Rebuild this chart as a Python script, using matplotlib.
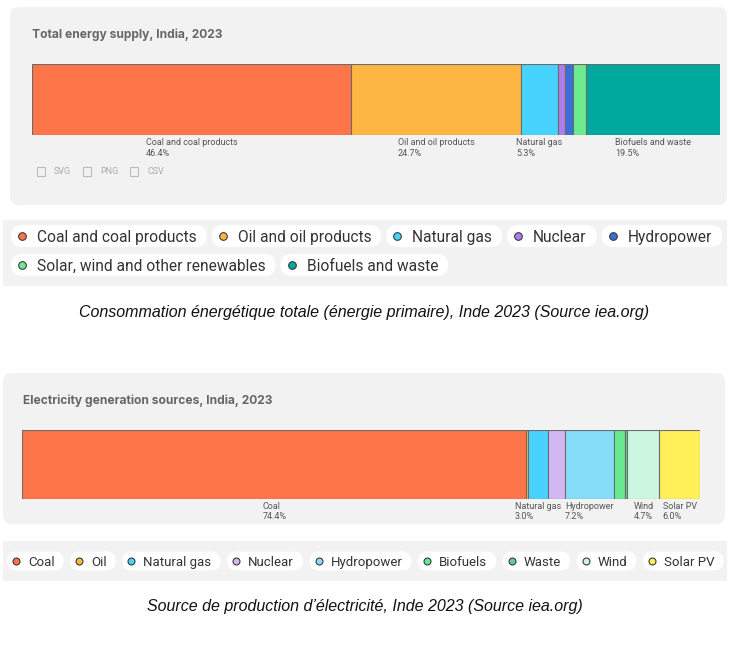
import matplotlib.pyplot as plt
from matplotlib.patches import FancyBboxPatch, Rectangle

W, H = 745, 668

# Total energy supply, India 2023 (iea.org) - parts en %
tes_sources = ["Coal and coal products", "Oil and oil products", "Natural gas", "Nuclear",
               "Hydropower", "Solar, wind and other renewables", "Biofuels and waste"]
tes_share = [46.4, 24.7, 5.3, 1.1, 1.2, 1.8, 19.5]
tes_colors = ["#FF754A", "#FDB643", "#48D3FF", "#AE7EEC", "#3A6FD6", "#6CEC8E", "#00A99D"]
tes_labelled = ["Coal and coal products", "Oil and oil products", "Natural gas", "Biofuels and waste"]

# Electricity generation sources, India 2023 - parts en %
elec_sources = ["Coal", "Oil", "Natural gas", "Nuclear", "Hydropower", "Biofuels", "Waste", "Wind", "Solar PV"]
elec_share = [74.4, 0.2, 3.0, 2.5, 7.2, 1.7, 0.3, 4.7, 6.0]
elec_colors = ["#FF754A", "#FDB643", "#48D3FF", "#D2B8F3", "#86DDF8", "#65EA8F", "#5FCFA0", "#CDF6E0", "#FFF05A"]
elec_labelled = ["Coal", "Natural gas", "Hydropower", "Wind", "Solar PV"]

fig = plt.figure(figsize=(W / 100, H / 100), dpi=100)
bg = fig.add_axes([0, 0, 1, 1])
bg.set_xlim(0, W)
bg.set_ylim(H, 0)
bg.axis("off")
renderer = fig.canvas.get_renderer()

FONT = ["Roboto", "DejaVu Sans"]


def fond(x0, y0, x1, y1, r=0):
    if r:
        bg.add_patch(FancyBboxPatch((x0 + r, y0 + r), x1 - x0 - 2 * r, y1 - y0 - 2 * r,
                                    boxstyle=f"round,pad={r},rounding_size={r}",
                                    fc="#F2F2F2", ec="none", zorder=0))
    else:
        bg.add_patch(Rectangle((x0, y0), x1 - x0, y1 - y0, fc="#F2F2F2", ec="none", zorder=0))


def axes_px(x0, y0, x1, y1):
    ax = fig.add_axes([x0 / W, 1 - y1 / H, (x1 - x0) / W, (y1 - y0) / H])
    ax.patch.set_alpha(0)
    return ax


def barre_empilee(ax, parts, couleurs, noms, etiquettes, fs, decal):
    gauche = 0
    for p, c, n in zip(parts, couleurs, noms):
        ax.barh(0, p, left=gauche, height=1, color=c, edgecolor="#6b6b6b", linewidth=0.8)
        if n in etiquettes:
            ax.annotate(f"{n}\n{p:.1f}%", xy=(gauche + p / 2, -0.5), xytext=(0, -decal),
                        textcoords="offset points", ha="center", va="top",
                        multialignment="left", fontsize=fs, color="#555555",
                        family=FONT, linespacing=1.15, annotation_clip=False)
        gauche += p
    ax.set_xlim(0, sum(parts))
    ax.set_ylim(-0.5, 0.5)
    ax.axis("off")


def legende(x0, lignes, noms, couleurs, fs, h, pad_m, pad_t, pad_r, ecart, ms):
    i = 0
    for yc, n in lignes:
        x = x0
        for nom, col in zip(noms[i:i + n], couleurs[i:i + n]):
            t = bg.text(x + pad_t, yc, nom, fontsize=fs, va="center_baseline", ha="left",
                        color="#333333", family=FONT, zorder=3)
            w = t.get_window_extent(renderer).width
            larg = pad_t + w + pad_r
            bg.add_patch(FancyBboxPatch((x, yc - h / 2), larg, h,
                                        boxstyle=f"round,pad=0,rounding_size={h / 2}",
                                        fc="white", ec="none", zorder=1))
            bg.plot([x + pad_m], [yc], marker="o", ms=ms, mfc=col, mec="#3a3a3a",
                    mew=0.8, zorder=2)
            x += larg + ecart
        i += n


# ---- panneau 1 : énergie primaire ----
fond(10, 7, 727, 205, r=9)
bg.text(32, 35, "Total energy supply, India, 2023", fontsize=8.65, fontweight="bold",
        color="#666666", family=["Inter", "DejaVu Sans"], va="center")
ax1 = axes_px(32, 64, 720, 135)
barre_empilee(ax1, tes_share, tes_colors, tes_sources, tes_labelled, 6.5, 2.5)

# icônes d'export
for xi, lab in [(37, "SVG"), (83, "PNG"), (130, "CSV")]:
    bg.add_patch(Rectangle((xi, 167), 8, 9, fc="none", ec="#bbbbbb", lw=0.8))
    bg.text(xi + 17, 172, lab, fontsize=6.5, color="#aaaaaa", family=FONT, va="center")

fond(3, 220, 727, 286)
legende(11, [(236, 5), (265, 2)], tes_sources, tes_colors, 11.2, 22, 11, 26, 10, 5, 5.5)

bg.text(364, 312, "Consommation énergétique totale (énergie primaire), Inde 2023 (Source iea.org)",
        fontsize=11.5, style="italic", ha="center", va="center", color="#111111",
        family=["Liberation Sans", "DejaVu Sans"])

# ---- panneau 2 : électricité ----
fond(3, 373, 725, 524, r=9)
bg.text(23, 401, "Electricity generation sources, India, 2023", fontsize=8.65, fontweight="bold",
        color="#666666", family=["Inter", "DejaVu Sans"], va="center")
ax2 = axes_px(22, 430, 700, 499)
barre_empilee(ax2, elec_share, elec_colors, elec_sources, elec_labelled, 6.5, 2.0)

fond(3, 541, 727, 581)
legende(7, [(561, 9)], elec_sources, elec_colors, 9.5, 19, 9, 21, 9, 6.6, 5)

bg.text(365, 607, "Source de production d\u2019électricité, Inde 2023 (Source iea.org)",
        fontsize=11.5, style="italic", ha="center", va="center", color="#111111",
        family=["Liberation Sans", "DejaVu Sans"])

fig.savefig("out.png", dpi=100)
